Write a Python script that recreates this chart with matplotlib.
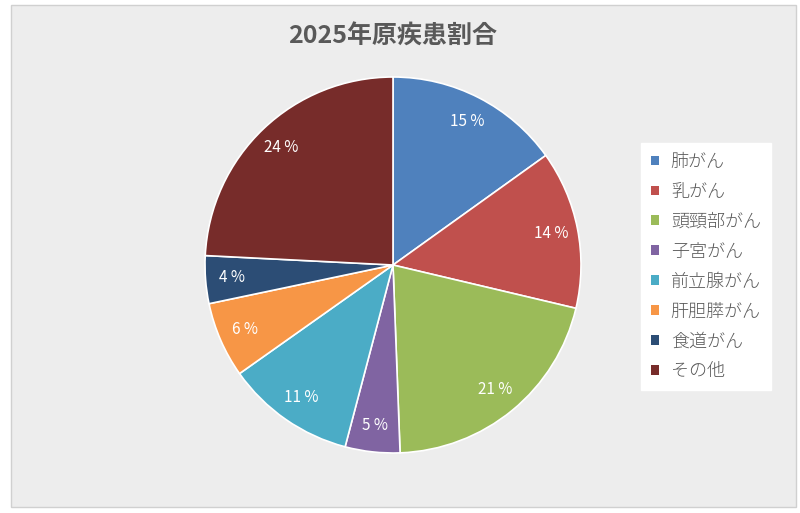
import matplotlib
matplotlib.use("Agg")
import matplotlib.pyplot as plt
from matplotlib.patches import Rectangle

plt.rcParams['font.family'] = ['Noto Sans CJK JP', 'DejaVu Sans']

title = "2025年原疾患割合"
categories = ["肺がん", "乳がん", "頭頸部がん", "子宮がん", "前立腺がん", "肝胆膵がん", "食道がん", "その他"]
values = [15.1, 13.6, 20.7, 4.7, 11.1, 6.5, 4.1, 24.2]
pct_labels = ["15 %", "14 %", "21 %", "5 %", "11 %", "6 %", "4 %", "24 %"]
colors = ["#4F81BD", "#C0504D", "#9BBB59", "#8064A2", "#4BACC6", "#F79646", "#2C4D75", "#772C2A"]

W, H = 800, 513
fig = plt.figure(figsize=(W / 100, H / 100), dpi=100)
fig.patch.set_facecolor("white")

# chart area background
bg = Rectangle((11 / W, 1 - 507 / H), (796 - 11) / W, (507 - 5) / H,
               transform=fig.transFigure, facecolor="#ededed",
               edgecolor="#d0d0d0", linewidth=1, zorder=-10)
fig.patches.append(bg)

cx, cy, r = 393, 265, 188
ax = fig.add_axes([(cx - r) / W, 1 - (cy + r) / H, 2 * r / W, 2 * r / H])
ax.set_zorder(1)
ax.set_facecolor("none")
wedges, texts = ax.pie(values, colors=colors, startangle=90, counterclock=False,
                       radius=1.0, labels=pct_labels,
                       labeldistance=0.86,
                       wedgeprops=dict(edgecolor="white", linewidth=1.2),
                       textprops=dict(color="white", fontsize=11))
for t in texts:
    t.set_horizontalalignment("center")
    t.set_verticalalignment("center")
ax.set_xlim(-1, 1)
ax.set_ylim(-1, 1)
ax.set_aspect("equal")
ax.axis("off")

fig.text(393 / W, 1 - 37 / H, title, ha="center", va="center",
         fontsize=18, fontweight="bold", color="#595959", zorder=2)

leg = fig.legend(wedges, categories, loc="upper left",
                 bbox_to_anchor=(641 / W, 1 - 143 / H), borderaxespad=0,
                 frameon=True, fancybox=False, edgecolor="white",
                 facecolor="white", framealpha=1,
                 prop=dict(size=13, weight="light"),
                 handlelength=0.45, handleheight=0.45, handletextpad=0.65,
                 labelspacing=0.66, borderpad=0.55, labelcolor="#595959")
leg.set_zorder(3)
for h in leg.legend_handles:
    h.set_edgecolor("none")

fig.savefig("out.png", dpi=100)
